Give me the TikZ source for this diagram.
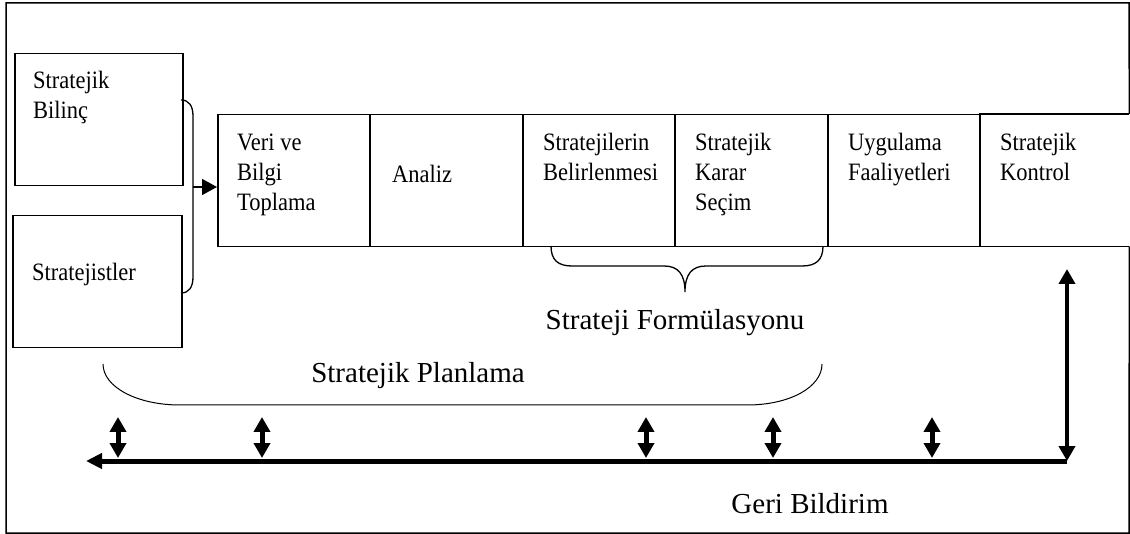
\documentclass[tikz,border=0pt]{standalone}
\usepackage{fontspec}
\setmainfont{Liberation Serif}
\newfontfamily\narrowserif[FakeStretch=0.9]{Liberation Serif}
\usetikzlibrary{arrows.meta,calc}
\newcommand{\stagefont}{\narrowserif\fontsize{25}{30}\selectfont}
\newcommand{\labelfont}{\fontsize{29}{34}\selectfont}

\begin{document}
\begin{tikzpicture}[x=1pt,y=-1pt,
  frameline/.style={line width=1.5pt},
  stagebox/.style={draw, line width=1.5pt, anchor=north west, inner sep=0pt,
    minimum height=132pt},
  emptybox/.style={anchor=north west, inner sep=0pt, minimum height=132pt},
  stagetext/.style={anchor=north west, inner sep=0pt, align=left, font=\stagefont},
  biglabel/.style={anchor=base, inner sep=0pt, font=\labelfont},
  bracket/.style={line width=1.3pt},
  thinbracket/.style={line width=1pt},
  feedline/.style={line width=5pt, -{Triangle[length=16pt,width=15pt]}},
  bothway/.style={line width=4.5pt,
    {Triangle[length=15pt,width=16pt]}-{Triangle[length=15pt,width=16pt]}},
  entryarrow/.style={line width=1.5pt, -{Triangle[length=15pt,width=16pt]}}
]
\useasboundingbox (0,0) rectangle (1130,534);

% left-hand inputs
\node[stagebox, minimum width=168pt] (bilinc) at (14,53) {};
\node[stagebox, minimum width=169pt] (strategists) at (12,215) {};
\node[stagetext] (t-bilinc) at ($(bilinc.north west)+(19,14)$) {\strut Stratejik\\Bilinç};
\node[stagetext] (t-strategists) at ($(strategists.north west)+(20,44)$) {\strut Stratejistler};

% process stages
\node[stagebox, minimum width=152pt] (c1) at (217,114) {};
\node[stagebox, minimum width=153pt] (c2) at (369,114) {};
\node[stagebox, minimum width=152pt] (c3) at (522,114) {};
\node[stagebox, minimum width=153pt] (c4) at (674,114) {};
\node[stagebox, minimum width=152pt] (c5) at (827,114) {};
\node[emptybox, minimum width=150pt] (c6) at (979,114) {};
\draw[frameline] (c6.north west) -- (c6.north east);
\draw[frameline] (c6.south west) -- (c6.south east);

\node[stagetext] (t1) at ($(c1.north west)+(20,15)$) {\strut Veri ve\\Bilgi\\Toplama};
\node[stagetext] (t2) at ($(c2.north west)+(23,47)$) {\strut Analiz};
\node[stagetext] (t3) at ($(c3.north west)+(21,15)$) {\strut Stratejilerin\\Belirlenmesi};
\node[stagetext] (t4) at ($(c4.north west)+(21,15)$) {\strut Stratejik\\Karar\\Seçim};
\node[stagetext] (t5) at ($(c5.north west)+(21,15)$) {\strut Uygulama\\Faaliyetleri};
\node[stagetext] (t6) at ($(c6.north west)+(21,15)$) {\strut Stratejik\\Kontrol};

% outer frame, open beside the last stage
\coordinate (fr-tr) at (1129,3);
\coordinate (fr-tl) at (6,3);
\coordinate (fr-bl) at (6,533);
\coordinate (fr-br) at (1129,533);
\draw[frameline] (c6.north east) -- (fr-tr) -- (fr-tl) -- (fr-bl) -- (fr-br) -- (c6.south east);

% bracket joining the two inputs, feeding the first stage
\coordinate (lb-top) at (181,100);
\coordinate (lb-bot) at (181,293);
\coordinate (lb-mid) at (193,187);
\draw[bracket] (lb-top) .. controls (189,100) and (193,106) .. (193,116)
  -- (193,277) .. controls (193,287) and (189,293) .. (lb-bot);
\draw[entryarrow] (lb-mid) -- (lb-mid -| c1.west);

% formulation brace
\coordinate (fb-a) at (551,246);
\coordinate (fb-tip) at (685,292);
\coordinate (fb-b) at (823,246);
\draw[bracket] (fb-a) .. controls (551,260) and (558,266) .. (572,266) -- (664,266)
  .. controls (678,266) and (685,274) .. (fb-tip)
  .. controls (685,274) and (692,266) .. (706,266) -- (802,266)
  .. controls (816,266) and (823,260) .. (fb-b);
\node[biglabel] (formulation) at (675,330) {Strateji Formülasyonu};

% planning bracket
\coordinate (pb-a) at (103,364);
\coordinate (pb-b) at (822,364);
\draw[thinbracket] (pb-a) .. controls (103,387) and (137,405) .. (180,405) -- (747,405)
  .. controls (790,405) and (822,387) .. (pb-b);
\node[biglabel] (planning) at (418,383) {Stratejik Planlama};

% feedback loop
\coordinate (fd-r) at (1067,461);
\coordinate (fd-l) at (86,461);
\coordinate (fd-top) at (1067,269);
\draw[feedline] (fd-r) -- (fd-l);
\draw[bothway] (fd-top) -- (fd-r);
\foreach \px [count=\k] in {118,262,646,773,932} {
  \coordinate (up\k) at (\px,417);
  \coordinate (dn\k) at (\px,458);
  \draw[bothway, line width=5pt] (up\k) -- (dn\k);
}
\node[biglabel] (feedback) at (810,513) {Geri Bildirim};
\end{tikzpicture}
\end{document}
